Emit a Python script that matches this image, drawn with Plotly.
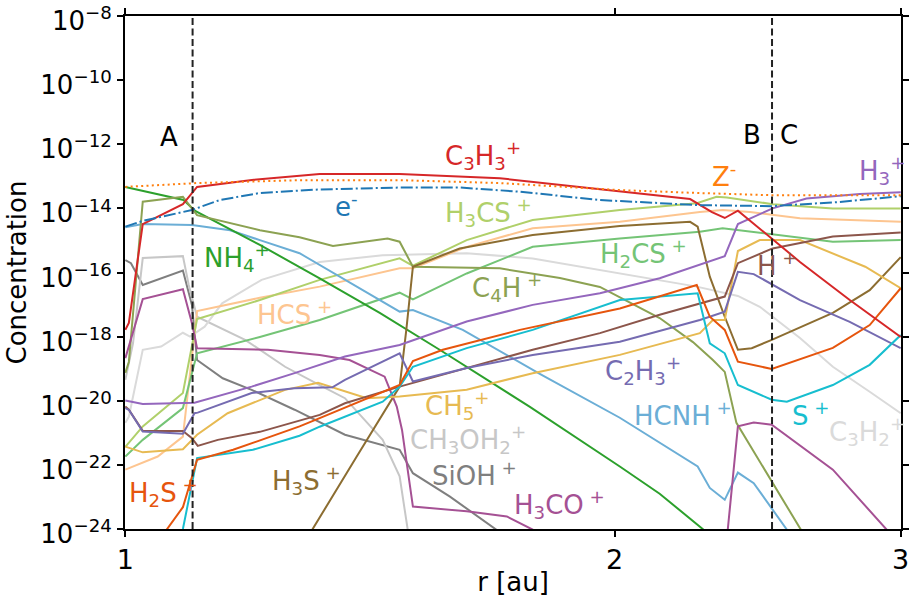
import plotly.graph_objects as go

# Radial grid positions [au] and log10 abundances per species
r_Zm = [1.000, 1.107, 1.280, 1.475, 1.700, 2.015, 2.250, 2.499, 3.000]
lg_Zm = [-13.33, -13.21, -13.12, -13.12, -13.21, -13.43, -13.52, -13.59, -13.59]

r_em = [1.000, 1.025, 1.099, 1.143, 1.210, 1.317, 1.475, 1.606, 1.749, 1.959, 2.257, 2.499, 2.752, 3.000]
lg_em = [-14.57, -14.39, -14.05, -13.74, -13.52, -13.41, -13.35, -13.35, -13.48, -13.74, -13.90, -13.93, -13.80, -13.62]

r_C3H3 = [1.000, 1.005, 1.025, 1.085, 1.107, 1.193, 1.317, 1.475, 1.700, 1.959, 2.226, 2.296, 2.338, 2.382, 2.499, 2.601, 2.791, 3.000]
lg_C3H3 = [-17.79, -17.57, -14.49, -13.87, -13.33, -13.12, -12.93, -12.93, -13.06, -13.41, -13.71, -14.12, -14.30, -14.07, -14.93, -15.67, -16.86, -18.01]

r_NH4 = [1.000, 1.086, 1.104, 1.210, 1.317, 1.434, 1.561, 1.774, 2.015, 2.132, 2.266, 2.322]
lg_NH4 = [-13.33, -13.74, -14.08, -15.14, -16.18, -17.26, -18.41, -20.19, -22.05, -22.90, -24.00, -24.49]

r_C4H = [1.000, 1.005, 1.025, 1.085, 1.107, 1.210, 1.280, 1.342, 1.450, 1.475, 1.503, 1.700, 1.851, 1.959, 2.132, 2.235, 2.299, 2.338, 2.377, 2.492, 2.604, 2.638]
lg_C4H = [-19.13, -18.79, -13.79, -13.64, -14.21, -14.68, -14.90, -15.17, -14.94, -15.04, -15.82, -15.87, -16.17, -16.45, -17.42, -18.17, -18.73, -19.10, -20.69, -22.40, -24.02, -24.49]

r_H3S = [1.280, 1.304, 1.388, 1.440, 1.475, 1.489, 1.503, 1.606, 1.781, 2.015, 2.226, 2.250, 2.289, 2.338, 2.382, 2.429, 2.499, 2.725, 2.871, 3.000]
lg_H3S = [-24.96, -24.00, -21.74, -20.44, -19.56, -17.79, -15.82, -15.25, -14.83, -14.55, -14.42, -14.57, -16.13, -17.38, -18.41, -18.36, -18.10, -17.26, -16.55, -15.52]

r_H3CS = [1.000, 1.025, 1.085, 1.107, 1.210, 1.317, 1.475, 1.503, 1.622, 1.781, 2.015, 2.247, 2.311, 2.345, 2.503, 2.725, 3.000]
lg_H3CS = [-21.44, -20.80, -19.76, -17.45, -16.86, -16.23, -15.56, -15.79, -14.99, -14.36, -14.05, -13.84, -13.64, -13.66, -13.87, -14.00, -14.00]

r_H2CS = [1.000, 1.025, 1.085, 1.107, 1.210, 1.317, 1.475, 1.503, 1.622, 1.781, 2.015, 2.257, 2.331, 2.481, 2.725, 3.000]
lg_H2CS = [-21.74, -21.22, -20.23, -18.52, -18.01, -17.48, -16.63, -16.84, -16.03, -15.20, -14.94, -14.73, -14.62, -14.78, -15.04, -14.99]

r_HCS = [1.000, 1.025, 1.047, 1.085, 1.107, 1.210, 1.317, 1.475, 1.503, 1.622, 1.781, 2.015, 2.257, 2.331, 2.423, 2.601, 3.000]
lg_HCS = [-22.15, -21.94, -21.74, -21.12, -17.20, -16.79, -16.44, -15.87, -15.87, -15.20, -14.62, -14.42, -14.11, -14.05, -14.11, -14.31, -14.42]

r_HCNH = [1.000, 1.025, 1.099, 1.160, 1.210, 1.280, 1.475, 1.503, 1.613, 1.799, 2.015, 2.250, 2.289, 2.338, 2.382, 2.436, 2.553, 2.601]
lg_HCNH = [-14.59, -14.49, -14.52, -14.68, -14.99, -15.40, -17.22, -17.17, -17.79, -19.16, -20.53, -22.05, -22.72, -23.09, -22.24, -22.57, -24.02, -24.64]

r_H3 = [1.000, 1.025, 1.103, 1.196, 1.271, 1.365, 1.475, 1.622, 1.781, 1.959, 2.132, 2.338, 2.382, 2.502, 2.625, 2.831, 3.000]
lg_H3 = [-19.99, -20.10, -20.06, -19.56, -19.14, -18.62, -18.26, -17.53, -17.01, -16.65, -16.18, -15.49, -14.49, -14.00, -13.69, -13.55, -13.50]

r_C2H3 = [1.000, 1.005, 1.025, 1.085, 1.103, 1.108, 1.196, 1.271, 1.341, 1.365, 1.475, 1.503, 1.622, 1.781, 2.015, 2.257, 2.338, 2.382, 2.436, 2.601, 2.791, 3.000]
lg_C2H3 = [-20.23, -20.28, -20.96, -21.03, -20.39, -20.37, -19.76, -19.61, -19.58, -19.35, -18.52, -19.40, -18.98, -18.57, -18.16, -17.48, -17.22, -15.98, -16.05, -16.86, -17.54, -18.36]

r_Hp = [1.000, 1.005, 1.025, 1.085, 1.099, 1.108, 1.140, 1.210, 1.317, 1.365, 1.475, 1.622, 1.781, 1.959, 2.132, 2.338, 2.382, 2.502, 2.725, 3.000]
lg_Hp = [-20.18, -20.28, -20.94, -20.94, -21.17, -21.41, -21.22, -20.97, -20.44, -20.08, -19.56, -18.98, -18.41, -17.89, -17.32, -16.75, -15.71, -15.25, -14.88, -14.75]

r_CH5 = [1.000, 1.025, 1.085, 1.107, 1.156, 1.210, 1.254, 1.314, 1.408, 1.475, 1.622, 1.781, 2.015, 2.257, 2.299, 2.338, 2.382, 2.457, 2.601, 2.853, 3.000]
lg_CH5 = [-21.43, -21.61, -21.51, -21.06, -20.39, -19.97, -19.66, -19.44, -19.92, -19.87, -19.66, -19.14, -18.57, -17.89, -17.48, -17.48, -15.33, -14.99, -14.99, -15.82, -16.49]

r_CH3OH2 = [1.000, 1.011, 1.025, 1.085, 1.094, 1.107, 1.185, 1.254, 1.317, 1.365, 1.440, 1.475, 1.492, 1.507]
lg_CH3OH2 = [-19.35, -18.20, -15.55, -15.49, -16.39, -17.38, -18.10, -18.94, -19.51, -19.92, -21.22, -22.36, -24.02, -24.96]

r_SiOH = [1.000, 1.008, 1.025, 1.085, 1.099, 1.107, 1.148, 1.196, 1.271, 1.365, 1.475, 1.503, 1.584, 1.693, 1.725]
lg_SiOH = [-15.61, -15.71, -16.39, -15.94, -17.01, -18.73, -19.30, -19.66, -20.28, -21.06, -21.53, -22.26, -22.99, -24.02, -24.33]

r_C3H2 = [1.000, 1.005, 1.025, 1.052, 1.085, 1.096, 1.119, 1.147, 1.213, 1.317, 1.440, 1.622, 1.781, 2.015, 2.247, 2.382, 2.457, 2.601, 2.725, 2.871, 3.000]
lg_C3H2 = [-20.69, -20.50, -18.41, -18.31, -17.88, -18.00, -17.69, -16.96, -16.23, -15.67, -15.46, -15.40, -15.56, -16.03, -16.44, -16.73, -17.07, -18.04, -18.94, -19.72, -20.39]

r_H3CO = [1.000, 1.025, 1.085, 1.099, 1.107, 1.165, 1.224, 1.317, 1.374, 1.444, 1.469, 1.480, 1.503, 1.622, 1.717, 1.781, 1.799, 1.959, 2.257, 2.348, 2.382, 2.436, 2.499, 2.725, 2.941, 2.975]
lg_H3CO = [-18.67, -16.83, -16.52, -17.58, -18.36, -18.39, -18.41, -18.57, -18.73, -19.25, -20.18, -20.91, -23.30, -23.45, -23.61, -24.02, -24.21, -25.27, -25.27, -24.02, -20.80, -20.68, -20.75, -22.15, -24.02, -24.49]

r_Sp = [1.065, 1.085, 1.107, 1.165, 1.198, 1.280, 1.317, 1.440, 1.475, 1.503, 1.622, 1.781, 2.015, 2.250, 2.289, 2.338, 2.382, 2.499, 2.553, 2.725, 2.871, 3.000]
lg_Sp = [-25.27, -24.00, -21.79, -21.63, -21.53, -21.09, -20.81, -20.03, -19.56, -18.94, -18.36, -17.79, -16.86, -16.65, -18.21, -18.52, -19.51, -19.97, -20.03, -19.51, -18.88, -17.95]

r_H2S = [1.035, 1.061, 1.085, 1.107, 1.165, 1.280, 1.317, 1.475, 1.503, 1.568, 1.749, 2.015, 2.247, 2.289, 2.338, 2.382, 2.499, 2.725, 2.871, 3.000]
lg_H2S = [-24.96, -24.00, -23.32, -21.84, -21.53, -20.80, -20.54, -19.51, -18.76, -18.41, -17.79, -17.12, -16.39, -17.38, -17.79, -18.78, -19.01, -18.35, -17.64, -16.49]

# Region boundaries [au]
r_boundaries = [1.10, 2.50]

# Axis ticks
x_ticks = [1, 2, 3]
y_exponents = [-24, -22, -20, -18, -16, -14, -12, -10, -8]

FONT = "DejaVu Sans"

species = [
    ("SiOH", r_SiOH, lg_SiOH, "#7f7f7f", "solid"),
    ("CH3OH2", r_CH3OH2, lg_CH3OH2, "#c7c7c7", "solid"),
    ("C3H2", r_C3H2, lg_C3H2, "#dadada", "solid"),
    ("HCS", r_HCS, lg_HCS, "#fdc590", "solid"),
    ("H3CS", r_H3CS, lg_H3CS, "#b0d06a", "solid"),
    ("H2CS", r_H2CS, lg_H2CS, "#74c476", "solid"),
    ("HCNH", r_HCNH, lg_HCNH, "#6baed6", "solid"),
    ("NH4", r_NH4, lg_NH4, "#2ca02c", "solid"),
    ("C4H", r_C4H, lg_C4H, "#8ca252", "solid"),
    ("H3S", r_H3S, lg_H3S, "#8c6d31", "solid"),
    ("H3CO", r_H3CO, lg_H3CO, "#a55194", "solid"),
    ("CH5", r_CH5, lg_CH5, "#e7ba52", "solid"),
    ("Hp", r_Hp, lg_Hp, "#8c564b", "solid"),
    ("C2H3", r_C2H3, lg_C2H3, "#756bb1", "solid"),
    ("H3", r_H3, lg_H3, "#9467bd", "solid"),
    ("Sp", r_Sp, lg_Sp, "#17becf", "solid"),
    ("H2S", r_H2S, lg_H2S, "#e6550d", "solid"),
    ("C3H3", r_C3H3, lg_C3H3, "#d62728", "solid"),
    ("em", r_em, lg_em, "#1f77b4", "12px,3px,2px,3px"),
    ("Zm", r_Zm, lg_Zm, "#ff7f0e", "2px,3.3px"),
]

fig = go.Figure()
for name, r, lg, color, dash in species:
    fig.add_trace(go.Scatter(
        x=r, y=[10.0 ** v for v in lg], mode="lines", name=name,
        line=dict(color=color, width=2, dash=dash), showlegend=False,
        hoverinfo="skip"))

for rb in r_boundaries:
    fig.add_trace(go.Scatter(
        x=[rb, rb], y=[10.0 ** y_exponents[0], 10.0 ** y_exponents[-1]],
        mode="lines", line=dict(color="#222222", width=2, dash="7px,3.5px"),
        showlegend=False, hoverinfo="skip"))

# Species labels (paper coordinates, left edge / vertical centre)
labels = [
    ("A", 0.0567, 0.7651, "black", "center"),
    ("B", 0.808, 0.768, "black", "center"),
    ("C", 0.8557, 0.768, "black", "center"),
    ("C<sub>3</sub>H<sub>3</sub><sup>+</sup>", 0.4098, 0.7271, "#d62728", "left"),
    ("e<sup>-</sup>", 0.268, 0.6316, "#1f77b4", "left"),
    ("Z<sup>-</sup>", 0.7539, 0.6901, "#ff7f0e", "left"),
    ("H<sub>3</sub><sup>+</sup>", 0.9433, 0.6979, "#9467bd", "left"),
    ("H<sub>3</sub>CS<sup>\u00a0+</sup>", 0.4098, 0.6179, "#b0d06a", "left"),
    ("NH<sub>4</sub><sup>+</sup>", 0.0992, 0.5283, "#2ca02c", "left"),
    ("H<sub>2</sub>CS<sup>\u00a0+</sup>", 0.6095, 0.5361, "#74c476", "left"),
    ("H<sup>\u00a0+</sup>", 0.8119, 0.5166, "#8c564b", "left"),
    ("C<sub>4</sub>H<sup>\u00a0+</sup>", 0.4446, 0.4698, "#8ca252", "left"),
    ("HCS<sup>\u00a0+</sup>", 0.1675, 0.4211, "#fdc590", "left"),
    ("C<sub>2</sub>H<sub>3</sub><sup>+</sup>", 0.616, 0.3099, "#756bb1", "left"),
    ("CH<sub>5</sub><sup>+</sup>", 0.384, 0.2398, "#e7ba52", "left"),
    ("HCNH<sup>\u00a0+</sup>", 0.6534, 0.2242, "#6baed6", "left"),
    ("S<sup>\u00a0+</sup>", 0.857, 0.2242, "#17becf", "left"),
    ("CH<sub>3</sub>OH<sub>2</sub><sup>+</sup>", 0.3647, 0.1735, "#c7c7c7", "left"),
    ("C<sub>3</sub>H<sub>2</sub><sup>+</sup>", 0.9046, 0.1891, "#dadada", "left"),
    ("H<sub>3</sub>S<sup>\u00a0+</sup>", 0.1869, 0.0955, "#8c6d31", "left"),
    ("SiOH<sup>\u00a0+</sup>", 0.393, 0.1072, "#7f7f7f", "left"),
    ("H<sub>2</sub>S<sup>\u00a0+</sup>", 0.0026, 0.0721, "#e6550d", "left"),
    ("H<sub>3</sub>CO<sup>\u00a0+</sup>", 0.4987, 0.0487, "#a55194", "left"),
]
for text, xp, yp, color, anchor in labels:
    fig.add_annotation(text=text, x=xp, y=yp, xref="paper", yref="paper",
                       xanchor=anchor, yanchor="middle", showarrow=False,
                       font=dict(family=FONT, size=26, color=color))

# tiny padding keeps the end ticks inside the visible range
x_range = [-0.0002, 0.4773]
y_range = [-24.0004, -7.9996]
y_text = ["10<sup>\u2212%d</sup>" % (-e) for e in y_exponents]
y_vals = [10.0 ** e for e in y_exponents]

common_x = dict(type="log", range=x_range, tickvals=x_ticks,
                ticklen=6, tickwidth=2, tickcolor="black", showgrid=False,
                zeroline=False, automargin=False)
common_y = dict(type="log", range=y_range, tickvals=y_vals,
                ticklen=6, tickwidth=2, tickcolor="black", showgrid=False,
                zeroline=False, automargin=False)

fig.update_layout(
    width=921, height=597,
    margin=dict(l=125, r=20, t=16, b=68),
    paper_bgcolor="white", plot_bgcolor="white",
    font=dict(family=FONT, size=26, color="black"),
    xaxis=dict(**common_x, ticks="outside", mirror="ticks", showline=True,
               linewidth=2, linecolor="black", ticktext=["1", "2", "3"],
               tickfont=dict(family=FONT, size=27), ticklabeloverflow="allow",
               title=dict(text="r [au]", font=dict(family=FONT, size=26),
                          standoff=2)),
    yaxis=dict(**common_y, ticks="outside", mirror="ticks", showline=True,
               linewidth=2, linecolor="black", ticktext=y_text,
               tickfont=dict(family=FONT, size=26), ticklabeloverflow="allow",
               ticklabelshift=5,
               title=dict(text="Concentration", font=dict(family=FONT, size=26),
                          standoff=6)),
    xaxis2=dict(**common_x, ticks="inside", mirror="ticks", showline=False,
                showticklabels=False, overlaying="x", anchor="y"),
    yaxis2=dict(**common_y, ticks="inside", mirror="ticks", showline=False,
                showticklabels=False, overlaying="y", anchor="x"),
)

fig.write_html("out.html")
